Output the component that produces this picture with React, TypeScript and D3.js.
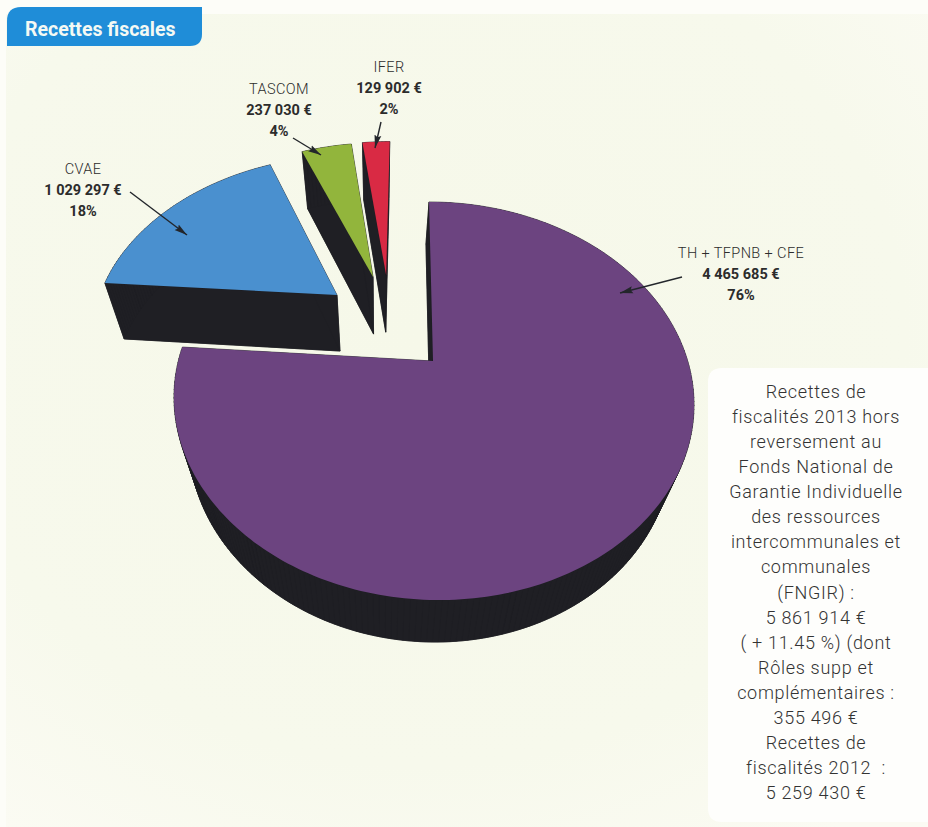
import React from "react";
import * as d3 from "d3";

// Tax revenue shares, 2013
const sliceNames = ["TH + TFPNB + CFE", "CVAE", "TASCOM", "IFER"];
const sliceValues = [4465685, 1029297, 237030, 129902];
const sliceAmounts = ["4 465 685 €", "1 029 297 €", "237 030 €", "129 902 €"];
const slicePercents = ["76%", "18%", "4%", "2%"];
const sliceColors = ["#6c4480", "#4a90cf", "#92b53c", "#d92a44"];

// How far each wedge is pulled out on the pie's own plane (unit radius)
const explodeU = [0, -0.398, -0.249, -0.193];
const explodeV = [0, -0.371, -0.482, -0.494];
const wallDepth = [42, 56, 57, 57];
const wallVanishX = [385, 380, 380, 380];

const labelCenterX = [741, 83, 279, 389];
const labelTopY = [253, 169, 89, 67];
const arrowStart = [[682, 277], [130, 192], [293, 138], [381, 122]];
const arrowEnd = [[620, 293], [187, 235], [321, 155], [375, 148]];

const noteLines = [
  "Recettes de",
  "fiscalités 2013 hors",
  "reversement au",
  "Fonds National de",
  "Garantie Individuelle",
  "des ressources",
  "intercommunales et",
  "communales",
  "(FNGIR) :",
  "5 861 914 €",
  "( + 11.45 %) (dont",
  "Rôles supp et",
  "complémentaires :",
  "355 496 €",
  "Recettes de",
  "fiscalités 2012  :",
  "5 259 430 €",
];

const WIDTH = 928;
const HEIGHT = 827;
const FONT = "Roboto, 'Noto Sans', sans-serif";
const WALL = "#1f1f24";

// Perspective view of the pie plane, viewer above and in front
const ORIGIN_X = 433;
const ORIGIN_Y = 361;
const SCALE_X = 254.7;
const SCALE_Y = 191;
const TILT = 0.201;
const SHEAR = 0.025;

type Pt = [number, number];

function project(u: number, v: number): Pt {
  const w = 1 - TILT * v;
  const y = ORIGIN_Y + (SCALE_Y * v) / w;
  const x = ORIGIN_X + (SCALE_X * u) / w + SHEAR * (y - ORIGIN_Y);
  return [x, y];
}

const pieLayout = d3
  .pie<number>()
  .sort(null)
  .startAngle(0)
  .endAngle(2 * Math.PI);

const polygon = d3.line<Pt>().curve(d3.curveLinearClosed);

function wedgeOutline(a0: number, a1: number, du: number, dv: number): Pt[] {
  const steps = Math.max(4, Math.ceil((a1 - a0) / 0.02));
  const rim = d3
    .range(steps + 1)
    .map((i) => a0 + ((a1 - a0) * i) / steps)
    .map((a) => project(du + Math.sin(a), dv - Math.cos(a)));
  return [project(du, dv), ...rim];
}

function Wedge({ index, a0, a1 }: { index: number; a0: number; a1: number }) {
  const top = wedgeOutline(a0, a1, explodeU[index], explodeV[index]);
  const depth = wallDepth[index];
  const vx = wallVanishX[index];
  const base: Pt[] = top.map(([x, y]) => [x + 0.07 * (vx - x), y + depth]);
  const quads = top.map((p, i) => {
    const j = (i + 1) % top.length;
    return polygon([p, top[j], base[j], base[i]]) as string;
  });
  return (
    <g>
      <g fill={WALL} stroke={WALL} strokeWidth={0.6}>
        <path d={polygon(base) as string} />
        {quads.map((d, i) => (
          <path key={i} d={d} />
        ))}
      </g>
      <path d={polygon(top) as string} fill={sliceColors[index]} />
    </g>
  );
}

export default function App() {
  const arcs = pieLayout(sliceValues);
  const drawOrder = [1, 2, 3, 0];
  const noteY = d3
    .scalePoint<number>()
    .domain(d3.range(noteLines.length))
    .range([398, 799]);

  return (
    <svg
      width={WIDTH}
      height={HEIGHT}
      viewBox={`0 0 ${WIDTH} ${HEIGHT}`}
      style={{ position: "absolute", left: 0, top: 0, display: "block" }}
    >
      <defs>
        <radialGradient id="paper" cx="45%" cy="40%" r="75%">
          <stop offset="0%" stopColor="#f6f8e9" />
          <stop offset="70%" stopColor="#f7f9ec" />
          <stop offset="100%" stopColor="#fbfbf3" />
        </radialGradient>
        <marker
          id="head"
          markerUnits="userSpaceOnUse"
          markerWidth={14}
          markerHeight={10}
          refX={13}
          refY={4}
          orient="auto"
        >
          <path d="M0,0.5 L13,4 L0,7.5 L2,4 Z" fill="#23262b" />
        </marker>
      </defs>

      <rect width={WIDTH} height={HEIGHT} fill="#fdfdf8" />
      <rect x={6} y={14} width={WIDTH - 6} height={HEIGHT - 14} fill="url(#paper)" />

      {/* Section tab */}
      <path
        d="M7,46 L7,21 Q7,7 21,7 L202,7 L202,34 Q202,46 190,46 Z"
        fill="#1f8dd8"
      />
      <text
        x={25}
        y={35.5}
        fill="#f4f9f4"
        fontFamily={FONT}
        fontWeight={700}
        fontSize={19.5}
      >
        Recettes fiscales
      </text>

      {/* Exploded pie */}
      {drawOrder.map((i) => (
        <Wedge key={i} index={i} a0={arcs[i].startAngle} a1={arcs[i].endAngle} />
      ))}

      {/* Leader arrows */}
      {arrowStart.map((s, i) => (
        <line
          key={i}
          x1={s[0]}
          y1={s[1]}
          x2={arrowEnd[i][0]}
          y2={arrowEnd[i][1]}
          stroke="#23262b"
          strokeWidth={1.4}
          markerEnd="url(#head)"
        />
      ))}

      {/* Slice labels */}
      {sliceNames.map((name, i) => (
        <g
          key={name}
          textAnchor="middle"
          fontFamily={FONT}
          fontSize={14.5}
          fill="#2c2c2c"
        >
          <text x={labelCenterX[i]} y={labelTopY[i] + 5} fontWeight={300} letterSpacing={0.4}>
            {name}
          </text>
          <text x={labelCenterX[i]} y={labelTopY[i] + 26} fontWeight={700}>
            {sliceAmounts[i]}
          </text>
          <text x={labelCenterX[i]} y={labelTopY[i] + 47} fontWeight={700}>
            {slicePercents[i]}
          </text>
        </g>
      ))}

      {/* Side note */}
      <path
        d="M722,368 L928,368 L928,822 L722,822 Q708,822 708,808 L708,382 Q708,368 722,368 Z"
        fill="#fefefc"
      />
      <g
        textAnchor="middle"
        fontFamily={FONT}
        fontWeight={300}
        fontSize={18}
        letterSpacing={0.7}
        fill="#333"
      >
        {noteLines.map((line, i) => (
          <text key={i} x={816} y={noteY(i)} style={{ whiteSpace: "pre" }}>
            {line}
          </text>
        ))}
      </g>
    </svg>
  );
}
